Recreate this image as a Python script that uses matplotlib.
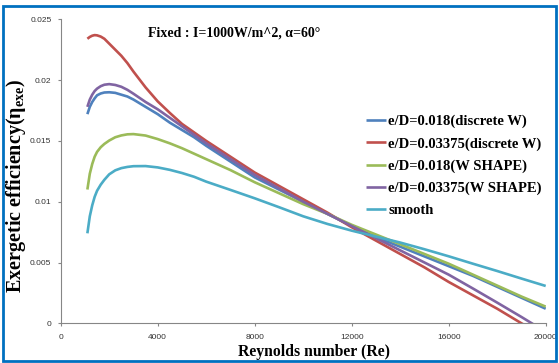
import matplotlib
matplotlib.use('Agg')
import matplotlib.pyplot as plt
from matplotlib.patches import Rectangle

plt.rcParams['mathtext.fontset'] = 'custom'
plt.rcParams['mathtext.rm'] = 'Liberation Serif:bold'

# Reynolds number samples (shared by all cases)
re = [1100, 1200, 1300, 1400, 1500, 1650, 1800, 2000, 2250, 2500, 2750, 3000, 3500, 4000, 4500, 5000,
      5500, 6000, 7000, 8000, 9000, 10000, 11000, 12000, 13000, 14000, 15000, 16000, 17000, 18000,
      19000, 20000]

# exergetic efficiency
eta_018_discrete = [0.0172, 0.0178, 0.0182, 0.0185, 0.01875, 0.0189, 0.01898, 0.0190, 0.01895, 0.0188,
                    0.01865, 0.0184, 0.0178, 0.0172, 0.0165, 0.0159, 0.0153, 0.0146, 0.0133, 0.0120,
                    0.0110, 0.0100, 0.0090, 0.0080, 0.0071, 0.0063, 0.0055, 0.0047, 0.0039, 0.0030,
                    0.0021, 0.0012]
eta_03375_discrete = [0.0234, 0.02355, 0.02365, 0.0237, 0.02368, 0.02358, 0.0234, 0.0230, 0.0225, 0.0220,
                      0.0214, 0.0207, 0.0194, 0.01825, 0.0173, 0.0164, 0.0157, 0.0150, 0.0137, 0.0124,
                      0.0113, 0.0102, 0.0091, 0.0079, 0.0068, 0.0057, 0.0046, 0.0034, 0.0023, 0.0012,
                      0.0000, -0.0011]
eta_018_wshape = [0.0110, 0.0123, 0.0131, 0.0137, 0.0141, 0.01448, 0.01475, 0.01503, 0.0153, 0.01545,
                  0.01554, 0.01556, 0.01544, 0.01515, 0.0148, 0.0144, 0.01395, 0.0135, 0.0126, 0.0116,
                  0.0107, 0.0098, 0.0090, 0.0081, 0.0073, 0.0065, 0.0057, 0.0049, 0.0040, 0.0031,
                  0.0022, 0.00137]
eta_03375_wshape = [0.0178, 0.0184, 0.0188, 0.0191, 0.0193, 0.0195, 0.01962, 0.01967, 0.0196, 0.01945,
                    0.0192, 0.01888, 0.0182, 0.0176, 0.0169, 0.0162, 0.0155, 0.0148, 0.0135, 0.0122,
                    0.0111, 0.0100, 0.0090, 0.0080, 0.0070, 0.0060, 0.0050, 0.0040, 0.00286, 0.0017,
                    0.00052, -0.0007]
eta_smooth = [0.0074, 0.0088, 0.0097, 0.0104, 0.0109, 0.0114, 0.0118, 0.01225, 0.01258, 0.01276,
              0.01286, 0.01292, 0.01293, 0.01282, 0.01262, 0.01236, 0.01205, 0.01165, 0.01097, 0.01028,
              0.00955, 0.0088, 0.00817, 0.00762, 0.00713, 0.00664, 0.00609, 0.00551, 0.0049, 0.0043,
              0.00368, 0.00307]

labels = ['e/D=0.018(discrete W)', 'e/D=0.03375(discrete W)', 'e/D=0.018(W SHAPE)',
          'e/D=0.03375(W SHAPE)', 'smooth']
colors = ['#4F81BD', '#C0504D', '#9BBB59', '#8064A2', '#4BACC6']
series = [eta_018_discrete, eta_03375_discrete, eta_018_wshape, eta_03375_wshape, eta_smooth]

W, H = 559, 363
fig = plt.figure(figsize=(W / 100, H / 100), dpi=100)
ax = fig.add_axes([60.7 / W, 1 - 323.3 / H, (545.7 - 60.7) / W, (323.3 - 19.3) / H])

for eta, c, lab in zip(series, colors, labels):
    ax.plot(re, eta, color=c, lw=1.9, label=lab, solid_capstyle='butt')

ax.set_xlim(0, 20000)
ax.set_ylim(0, 0.025)
ax.set_xticks([0, 4000, 8000, 12000, 16000, 20000])
ax.set_yticks([0, 0.005, 0.01, 0.015, 0.02, 0.025])
ax.set_xticklabels(['0', '4000', '8000', '12000', '16000', '20000'])
ax.set_yticklabels(['0', '0.005', '0.01', '0.015', '0.02', '0.025'])

for s in ['top', 'right']:
    ax.spines[s].set_visible(False)
for s in ['left', 'bottom']:
    ax.spines[s].set_color('#868686')
    ax.spines[s].set_linewidth(0.8)
ax.tick_params(direction='out', length=2.2, width=0.8, color='#868686',
               labelsize=6, labelcolor='#333333', pad=5.5)
ax.tick_params(axis='y', pad=4.5)
for t in ax.get_xticklabels() + ax.get_yticklabels():
    t.set_fontfamily('Liberation Sans')

serif = 'Liberation Serif'
fig.text(148 / W, 1 - 33 / H, 'Fixed : I=1000W/m^2, α=60°', family=serif,
         fontweight='bold', fontsize=10, ha='left', va='center')
fig.text(314 / W, 1 - 352 / H, 'Reynolds number (Re)', family=serif,
         fontweight='bold', fontsize=11.3, ha='center', va='center')
fig.text(16 / W, 1 - 186 / H, r'Exergetic efficiency($\mathrm{η}_{\mathrm{exe}}$)', family=serif,
         fontweight='bold', fontsize=14.5, ha='center', va='center', rotation=90)

leg = ax.legend(loc='upper left', bbox_to_anchor=(366 / W, 1 - 115 / H),
                bbox_transform=fig.transFigure, frameon=False, borderpad=0,
                borderaxespad=0, handlelength=1.4, handletextpad=0.14,
                labelspacing=0.6, prop={'family': serif, 'weight': 'bold', 'size': 10.5})

fig.patches.append(Rectangle((3 / W, 2 / H), (556 - 3) / W, (357 - 2) / H,
                             transform=fig.transFigure, fill=False,
                             edgecolor='#0070C0', linewidth=2))

fig.savefig('out.png', dpi=100)
